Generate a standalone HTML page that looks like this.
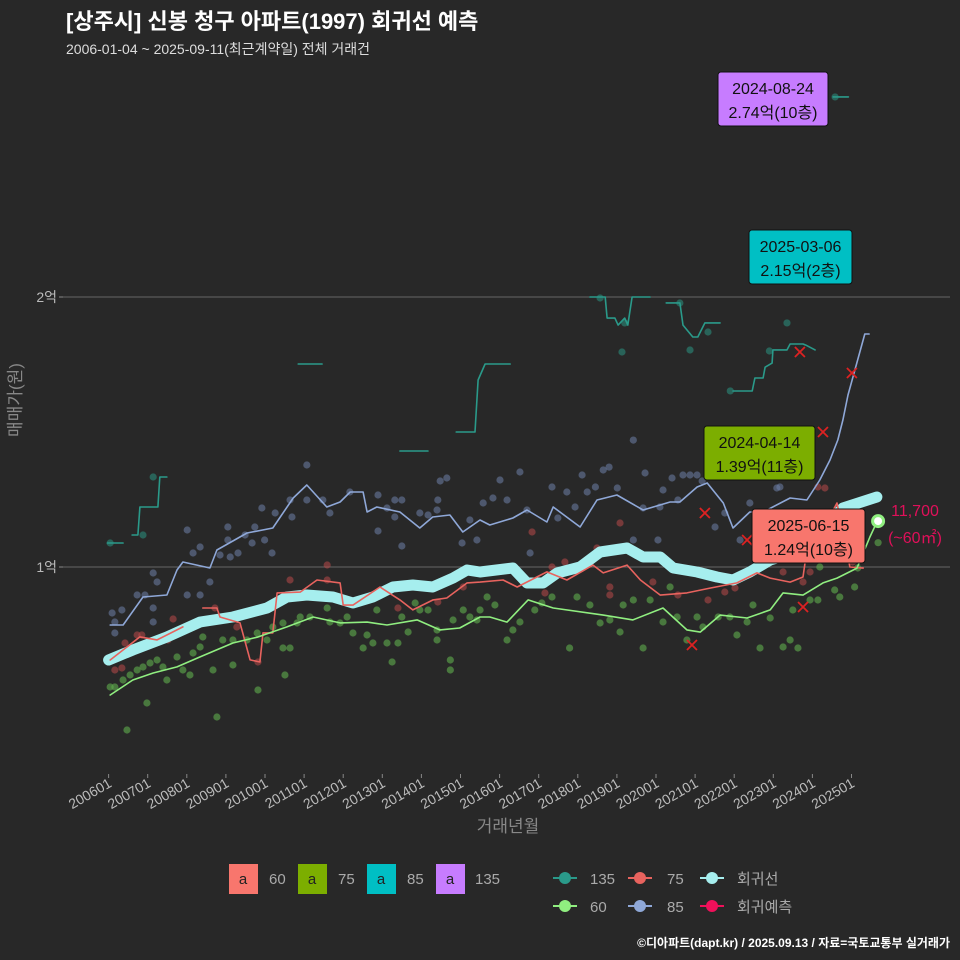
<!DOCTYPE html>
<html><head><meta charset="utf-8">
<style>
body{margin:0;background:#282828;}
svg{display:block;font-family:"Liberation Sans","Noto Sans CJK KR",sans-serif;}
</style></head>
<body>
<svg id="chart" width="960" height="960" viewBox="0 0 960 960">
<rect width="960" height="960" fill="#282828"/>
<text x="66" y="29" fill="#fff" font-size="22" font-weight="bold">[상주시] 신봉 청구 아파트(1997) 회귀선 예측</text>
<text x="66" y="54" fill="#ddd" font-size="14">2006-01-04 ~ 2025-09-11(최근계약일) 전체 거래건</text>
<g id="grid"></g>
<g id="marks"></g>
<text x="0" y="0" transform="translate(21,400) rotate(-90)" text-anchor="middle" fill="#888" font-size="17">매매가(원)</text>
<text x="508" y="832" text-anchor="middle" fill="#888" font-size="17">거래년월</text>
<g font-size="15" fill="#aaa">
 <rect x="229" y="864" width="29" height="30" fill="#f8766d"/><text x="243" y="884" text-anchor="middle" fill="#222">a</text><text x="269" y="884">60</text>
 <rect x="298" y="864" width="29" height="30" fill="#7cae00"/><text x="312" y="884" text-anchor="middle" fill="#222">a</text><text x="338" y="884">75</text>
 <rect x="367" y="864" width="29" height="30" fill="#00bfc4"/><text x="381" y="884" text-anchor="middle" fill="#222">a</text><text x="407" y="884">85</text>
 <rect x="436" y="864" width="29" height="30" fill="#c77cff"/><text x="450" y="884" text-anchor="middle" fill="#222">a</text><text x="475" y="884">135</text>
 <g><line x1="553" y1="878" x2="577" y2="878" stroke="#2a9a8a" stroke-width="2"/><circle cx="565" cy="878" r="6" fill="#2a9a8a"/><text x="590" y="884">135</text></g>
 <g><line x1="628" y1="878" x2="652" y2="878" stroke="#e8635e" stroke-width="2"/><circle cx="640" cy="878" r="6" fill="#e8635e"/><text x="667" y="884">75</text></g>
 <g><line x1="700" y1="878" x2="724" y2="878" stroke="#a6eeee" stroke-width="2"/><circle cx="712" cy="878" r="6" fill="#a6eeee"/><text x="737" y="884">회귀선</text></g>
 <g><line x1="553" y1="906" x2="577" y2="906" stroke="#90ee80" stroke-width="2"/><circle cx="565" cy="906" r="6" fill="#90ee80"/><text x="590" y="912">60</text></g>
 <g><line x1="628" y1="906" x2="652" y2="906" stroke="#8fa8d8" stroke-width="2"/><circle cx="640" cy="906" r="6" fill="#8fa8d8"/><text x="667" y="912">85</text></g>
 <g><line x1="700" y1="906" x2="724" y2="906" stroke="#f0105a" stroke-width="2"/><circle cx="712" cy="906" r="6" fill="#f0105a"/><text x="737" y="912">회귀예측</text></g>
</g>
<text x="950" y="947" text-anchor="end" fill="#fff" font-size="12" font-weight="bold">©디아파트(dapt.kr) / 2025.09.13 / 자료=국토교통부 실거래가</text>
</svg>
<script>
const xTickLabels=["200601","200701","200801","200901","201001","201101","201201","201301","201401","201501","201601","201701","201801","201901","202001","202101","202201","202301","202401","202501"];
const yTickValues=[10000,20000];
const yTickLabels=["1억","2억"];
const regT=[2006.0,2006.62,2007.49,2008.34,2009.18,2010.05,2010.56,2011.07,2011.74,2012.25,2012.76,2013.27,2013.78,2014.29,2014.81,2015.17,2015.5,2016.34,2016.7,2017.11,2017.47,2018.06,2018.57,2019.26,2019.67,2020.11,2020.44,2021.05,2021.56,2021.97,2022.4,2022.92,2023.35,2023.94,2024.78,2025.65];
const regV=[6556,6926,7407,7963,8148,8481,8889,8963,8889,8667,8889,9259,9333,9259,9593,9889,9815,9963,9407,9407,9778,10000,10556,10704,10370,10370,9963,9815,9630,9519,9815,10259,10444,11000,12185,12593];
const s60T=[2006.04,2006.62,2007.14,2007.75,2008.34,2009.18,2009.8,2010.56,2011.23,2011.92,2012.61,2013.12,2013.89,2014.47,2014.98,2015.5,2015.75,2016.19,2016.73,2017.37,2018.65,2019.41,2020.18,2020.79,2021.13,2021.64,2022.33,2022.92,2023.25,2023.76,2024.27,2024.63,2025.14,2025.47,2025.65];
const s60V=[5260,5815,6075,6300,6670,7185,7400,7780,8150,7930,7960,7850,8040,7670,7740,8150,8150,7960,8780,8480,8220,8040,8480,7670,7590,8220,8110,8410,9040,8960,9410,9590,9960,11110,11670];
const s75T=[2006.04,2006.8,2007.24,2007.9,null,2008.41,2008.77,2008.85,2009.36,2009.62,2009.87,2009.95,2010.2,2010.31,2010.9,2011.33,2011.92,2012.0,2012.25,2012.94,2013.45,2013.78,2014.3,2014.65,2015.17,2015.5,2016.09,2016.45,2017.21,2017.72,2018.39,2018.65,2019.26,2019.6,2020.11,2020.79,2021.38,2022.07,2022.58,2022.92,2023.43,2023.76,2023.81,2024.63,2024.96,2025.3];
const s75V=[6555,7410,7300,7780,null,8480,8480,8150,7930,6560,6480,7560,7560,9040,9070,9520,9410,8590,8590,9260,8780,8410,8780,8850,9410,9440,9520,9260,9820,9520,10070,9780,10070,9520,8960,9040,9220,9410,9780,9590,9440,9630,10150,12370,10000,9960];
const s85T=[2006.04,2006.37,2006.88,2007.49,2007.75,2007.9,2008.59,2008.77,2009.54,2010.2,2010.72,2011.07,2011.58,2011.92,2012.18,2012.51,2012.61,2012.86,2013.45,2013.96,2014.29,2014.73,2015.06,2015.5,2015.75,2016.34,2016.7,2017.21,2017.37,2018.06,2018.49,2019.0,2019.67,2020.36,2020.61,2021.05,2021.31,2021.72,2021.97,2022.4,2022.74,2023.43,2023.86,2024.19,2024.45,2024.65,2024.78,2024.91,2025.34,2025.45];
const s85V=[7852,7852,8889,8963,9889,10185,9963,10630,11260,11444,12556,13037,12222,12407,12778,12778,12037,12222,12037,11444,11852,11926,11296,11741,11556,11815,12111,11667,12222,11481,12480,12667,12111,12407,12407,12963,13111,12370,11444,12037,12037,12556,12480,13222,13963,14704,15444,16370,18630,18630,21480];
const s135T=[[2005.97,2006.37],[2006.6,2006.75,2006.8,2007.26,2007.31,2007.49],[2010.85,2011.46],[2013.45,2014.17],[2014.89,2015.37,2015.45,2015.63,2016.27],[2018.31,2018.7,2018.75,2018.95,2019.03,2019.2,2019.28,2019.39,2019.85],[2020.26,2020.61,2020.69,2020.94,2021.07,2021.25,2021.64],[2021.97,2022.46,2022.53,2022.74,2022.79,2022.97,2022.99,2023.35,2023.43,2023.76,2023.83,2024.07],[2024.53,2024.92]];
const s135V=[[10889,10889],[11185,11185,12222,12222,13333,13333],[17519,17519],[14296,14296],[15000,15000,16926,17519,17519],[20000,20000,19220,19220,18960,19220,18960,20000,20000],[19780,19780,18960,18520,18520,19040,19040],[16520,16520,17000,17000,17400,17550,18040,18040,18260,18260,18220,18040],[27410,27410]];
const p85T=[2006.09,2006.16,2006.34,2006.16,2006.73,2006.93,2007.14,2007.24,2007.14,2007.14,2008.01,2008.01,2008.16,2008.34,2008.34,2008.59,2008.85,2009.05,2009.05,2009.11,2009.31,2009.49,2009.67,2009.74,2009.99,2009.92,2010.18,2010.26,2010.64,2010.69,2011.07,2011.07,2011.48,2011.66,2012.17,2012.89,2012.89,2013.12,2013.32,2013.32,2013.5,2013.5,2013.96,2014.17,2014.4,2014.42,2014.48,2014.65,2015.04,2015.24,2015.42,2015.58,2015.83,2016.01,2016.19,2016.52,2016.7,2016.78,2017.34,2017.49,2017.72,2017.93,2018.11,2018.24,2018.45,2018.65,2019.01,2019.42,2019.67,2019.72,2020.05,2020.1,2020.18,2020.41,2020.56,2020.69,2020.87,2021.05,2021.18,2021.51,2021.76,2022.15,2022.4,2023.09,2023.17,2019.42,2018.8];
const p85V=[8296,7963,8407,7556,8963,8963,9778,9444,8481,7963,11370,8963,10519,10741,8963,9444,10444,11481,11000,10370,10519,11185,10889,11481,11000,12185,10519,12000,12482,11852,13778,12482,12482,12000,12778,12667,11333,12185,12482,11852,12482,10778,12000,11926,12111,12482,13185,13296,10889,11741,11000,12370,12556,13222,12482,13519,12111,10519,12963,11815,12778,12222,13407,12778,12963,13593,12926,11000,12185,13481,11000,12222,12852,13296,12482,13407,13407,13407,13185,11481,12000,11000,12370,12926,12963,14700,13700];
const p60T=[2006.04,2006.16,2006.37,2006.55,2006.73,2006.88,2007.06,2007.24,2007.39,2007.49,2006.98,2006.47,2007.75,2007.9,2008.08,2008.16,2008.34,2008.41,2008.67,2008.77,2008.92,2009.18,2009.18,2009.54,2009.8,2009.82,2010.05,2010.2,2010.46,2010.46,2010.64,2010.51,2010.82,2010.9,2011.15,2011.59,2011.66,2011.92,2012.1,2012.25,2012.51,2012.61,2012.76,2012.86,2013.12,2013.25,2013.4,2013.5,2013.66,2013.84,2013.96,2014.17,2014.4,2014.4,2014.74,2014.74,2014.81,2015.07,2015.24,2015.42,2015.5,2015.68,2015.88,2016.19,2016.34,2016.52,2016.9,2017.08,2017.34,2017.79,2017.98,2018.31,2018.57,2018.82,2019.08,2019.16,2019.42,2019.67,2019.85,2020.18,2020.36,2020.54,2020.79,2021.05,2021.2,2021.59,2021.89,2022.07,2022.33,2022.48,2022.66,2022.92,2023.25,2023.43,2023.5,2023.63,2023.94,2024.14,2024.19,2024.57,2024.7,2025.08,2025.16,2025.68];
const p60V=[5556,5556,5815,6000,6185,6296,6444,6556,6296,5815,4963,3963,6667,6185,6000,6815,7037,7407,6185,4444,7296,7296,6370,7296,7556,5444,7296,7778,7926,7000,7000,6000,7926,8148,8148,8481,7963,7926,8148,7556,7000,7481,7185,8407,7185,6481,7185,8148,7593,8667,8407,8407,7667,7296,6556,6185,8037,8407,8148,8037,8407,8889,8593,7296,7667,7963,8407,8667,8889,7000,8889,8593,7926,8037,7593,8593,8778,7000,8778,7963,9259,8148,7296,8148,7778,8148,8148,7481,7963,8593,7000,8111,7037,7296,8407,7000,8778,8778,10000,9148,8889,9259,9963,10900];
const p75T=[2006.16,2006.34,2006.42,2006.73,2006.85,2007.52,2007.65,2008.72,2009.28,2009.82,2010.64,2011.59,2011.59,2013.4,2014.42,2015.07,2016.83,2017.16,2017.34,2017.67,2018.49,2018.82,2018.82,2019.08,2019.92,2020.56,2021.33,2021.76,2022.02,2023.25,2023.76,2024.14,2024.32,2023.94,2025.03];
const p75V=[6185,6259,7185,7481,7481,7296,8074,8481,7778,6481,9518,10074,9518,8481,8704,9259,11296,9037,10000,10185,10704,9259,8963,11630,9444,8963,8778,9074,9222,9815,9444,12963,12926,9815,10185];
const p135T=[2006.04,2006.88,2007.14,2018.57,2019.13,2019.2,2020.61,2020.87,2021.33,2023.35,2021.9,2022.9,2024.58];
const p135V=[10889,11185,13333,19963,17963,19040,19778,18037,18704,19040,16520,18000,27410];
const xMarkT=[2020.92,2021.25,2022.33,2023.76,2023.68,2024.27,2025.01];
const xMarkV=[7111,12000,11000,8519,17963,15000,17185];

const X=t=>108.6+(t-2006)*39.1;
const Y=v=>567-(v-10000)*0.027;
const NS="http://www.w3.org/2000/svg";
const grid=document.getElementById('grid'), marks=document.getElementById('marks');
function mk(tag,attrs,parent){const e=document.createElementNS(NS,tag);for(const k in attrs)e.setAttribute(k,attrs[k]);parent.appendChild(e);return e;}

yTickValues.forEach((v,i)=>{
  const l=mk('line',{x1:63,x2:950,y1:Y(v),y2:Y(v),stroke:'#666','stroke-width':1},grid);
  
  
  const tk=mk('line',{x1:59,x2:63,y1:Y(v),y2:Y(v),stroke:'#888'},grid);
  
  
  const t=mk('text',{x:57,y:Y(v)+5,'text-anchor':'end',fill:'#bbb','font-size':14},grid);
  t.textContent=yTickLabels[i];
  
  
});
xTickLabels.forEach((lab,i)=>{
  const x=X(+lab.slice(0,4)+(+lab.slice(4)-1)/12);
  const tk=mk('line',{x1:x,x2:x,y1:774,y2:778,stroke:'#888'},grid);
  
  
  const t=mk('text',{x:0,y:0,'text-anchor':'end',fill:'#bbb','font-size':14,transform:`translate(${x+4},${786}) rotate(-30)`},grid);
  t.textContent=lab;
  
  
});

function dots(T,V,fill,op,name){
  T.forEach((t,i)=>{
    const c=mk('circle',{cx:X(t),cy:Y(V[i]),r:3.6,fill:fill,'fill-opacity':op},marks);
    
    
  });
}
dots(p85T,p85V,'#6d7fa8',0.55,'point-85');
dots(p135T,p135V,'#2a8a7a',0.6,'point-135');
dots(p75T,p75V,'#b84848',0.55,'point-75');
dots(p60T,p60V,'#5fae4c',0.6,'point-60');

function pathD(T,V){let d='',pen=false;T.forEach((t,i)=>{if(t===null){pen=false;return;}d+=(pen?'L':'M')+X(t).toFixed(1)+','+Y(V[i]).toFixed(1);pen=true;});return d;}
function line(T,V,color,w,name){
  const p=mk('path',{d:pathD(T,V),fill:'none',stroke:color,'stroke-width':w,'stroke-linejoin':'round','stroke-linecap':'round'},marks);
  
  
}
line(regT,regV,'#a6eeee',11,'regression-line');
s135T.forEach((seg,i)=>line(seg,s135V[i],'#2a9a8a',1.6,'line-135'));
line(s85T,s85V,'#8fa8d8',1.6,'line-85');
line(s75T,s75V,'#e8635e',1.6,'line-75');
line(s60T,s60V,'#90ee80',1.6,'line-60');

xMarkT.forEach((t,i)=>{
  const x=X(t),y=Y(xMarkV[i]);
  const g=mk('path',{d:`M${x-5},${y-5}L${x+5},${y+5}M${x-5},${y+5}L${x+5},${y-5}`,stroke:'#dd2222','stroke-width':1.8},marks);
  
  
});
const ep=mk('circle',{cx:X(2025.68),cy:Y(11700),r:5.5,fill:'#fff',stroke:'#90ee80','stroke-width':3},marks);



function label(x,y,w,bg,l1,l2,name){
  const g=mk('g',{},marks);
  
  
  mk('rect',{x:x,y:y,width:w,height:54,rx:3,fill:bg,stroke:'#111','stroke-width':1},g);
  const a=mk('text',{x:x+w/2,y:y+22,'text-anchor':'middle',fill:'#111','font-size':16},g);a.textContent=l1;
  const b=mk('text',{x:x+w/2,y:y+46,'text-anchor':'middle',fill:'#111','font-size':16},g);b.textContent=l2;
}
label(718,72,110,'#c77cff','2024-08-24','2.74억(10층)','label-135');
label(749,230,103,'#00bfc4','2025-03-06','2.15억(2층)','label-85');
label(704,426,111,'#7cae00','2024-04-14','1.39억(11층)','label-75');
label(752,509,113,'#f8766d','2025-06-15','1.24억(10층)','label-60');
const pt1=mk('text',{x:915,y:516,'text-anchor':'middle',fill:'#e0105a','font-size':16},marks);pt1.textContent='11,700';


const pt2=mk('text',{x:915,y:543,'text-anchor':'middle',fill:'#e0105a','font-size':16},marks);pt2.textContent='(~60㎡)';


</script>
</body></html>
